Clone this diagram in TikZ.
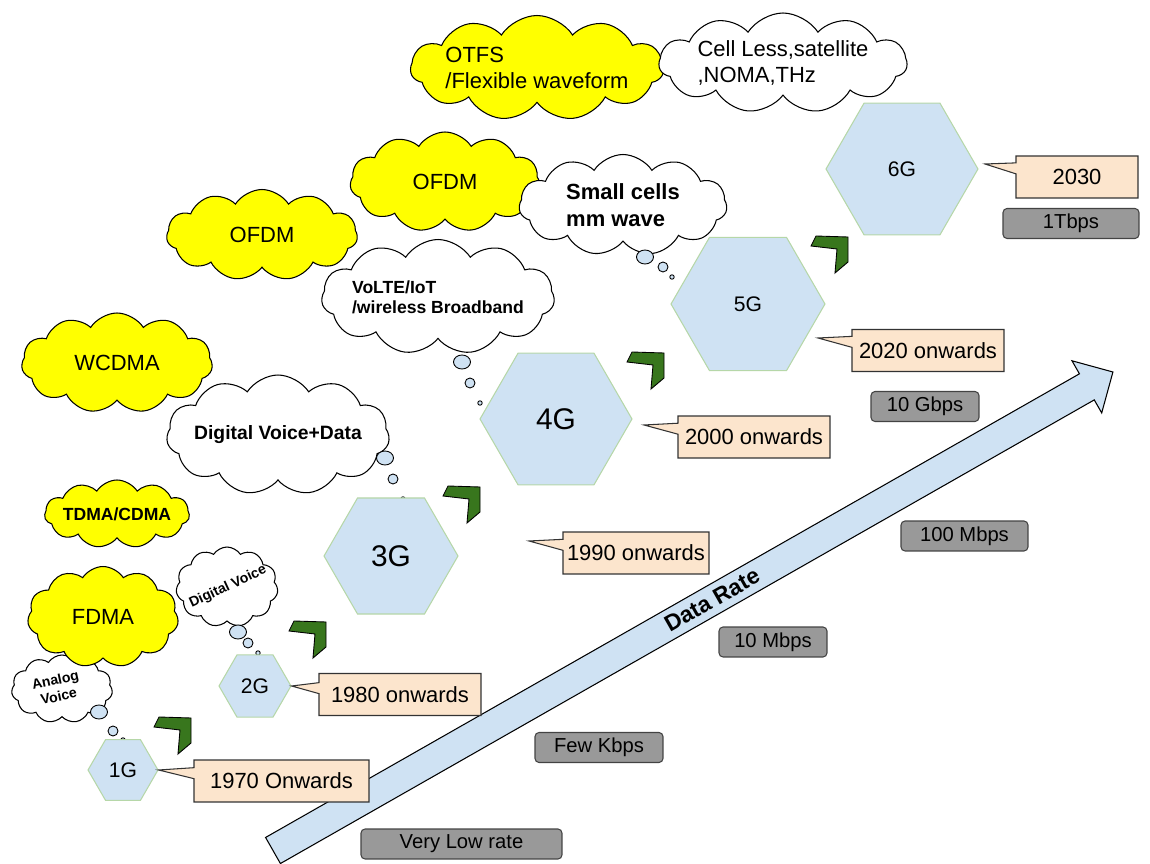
\documentclass[tikz,border=0pt]{standalone}
\usepackage{fontspec}
\setmainfont{Liberation Sans}
\usetikzlibrary{shapes.geometric,shapes.symbols,shapes.callouts}
\definecolor{cellblue}{HTML}{CFE2F3}
\definecolor{cellrim}{HTML}{B6D7A8}
\definecolor{yearpeach}{HTML}{FCE5CD}
\definecolor{yearrim}{HTML}{333333}
\definecolor{rategray}{HTML}{999999}
\definecolor{raterim}{HTML}{434343}
\definecolor{techyellow}{HTML}{FFFF00}
\definecolor{stepgreen}{HTML}{38761D}
\newcommand{\sz}[2]{\fontsize{#1}{#2}\selectfont}
% chevron between two generations, #1 = its top right corner
\newcommand{\genstep}[1]{%
  \draw[stepmark] (#1) -- ++(0,25) -- ++(-13,11) -- ++(2,-24)
    -- ++(-26,-3) -- ++(5,-10) -- cycle;}
% three thought bubbles, from the cloud down towards the cell
\newcommand{\bubbles}[3]{%
  \draw[bubble] (#1) circle[x radius=8.5, y radius=7];
  \draw[bubble] (#2) circle[radius=5];
  \draw[bubble] (#3) circle[radius=2.2];}

\begin{document}
\begin{tikzpicture}[
  x=0.02cm,
  y=-0.02cm,
  every node/.style={font=\sz{12.5}{15.3}, text=black},
  hexcell/.style={regular polygon, regular polygon sides=6, inner sep=0pt,
                  fill=cellblue, draw=cellrim, line width=0.6pt, font=\sz{12}{14}},
  bigcell/.style={hexcell, font=\sz{17}{20}},
  yearbox/.style={rectangle callout, callout pointer width=0.22cm, inner sep=0pt,
                  minimum height=0.84cm, fill=yearpeach, draw=yearrim, line width=0.6pt},
  ratebox/.style={rectangle, rounded corners=0.08cm, inner sep=0pt, minimum height=0.6cm,
                  fill=rategray, draw=raterim, line width=0.6pt, font=\sz{11.5}{13}},
  techcloud/.style={cloud, cloud puffs=11, cloud puff arc=115, cloud ignores aspect,
                    inner xsep=-0.5cm, inner ysep=0pt,
                    fill=techyellow, draw=black, line width=0.6pt},
  notecloud/.style={techcloud, fill=white},
  bubble/.style={fill=cellblue, draw=black, line width=0.5pt},
  stepmark/.style={fill=stepgreen, draw=black, line width=0.5pt},
  rateline/.style={fill=cellblue, draw=black, line width=0.6pt}
]
  \useasboundingbox (0,0) rectangle (1150,864);

  % ---- data rate arrow ----------------------------------------------------
  \begin{scope}[shift={(273,850.5)}, rotate=29.67]
    \draw[rateline] (0,-15) -- (936.7,-15) -- (936.7,-30) -- (966.7,0)
      -- (936.7,30) -- (936.7,15) -- (0,15) -- cycle;
  \end{scope}
  \node[rotate=29.67, font=\bfseries\sz{13}{15}] (dr) at (712,600) {Data Rate};

  % ---- clouds: access schemes (yellow) and services (white) ---------------
  \node[notecloud, inner sep=0pt, minimum width=2.02cm, minimum height=1.36cm]
    (an) at (62,689) {};
  \node[techcloud, minimum width=3.02cm, minimum height=2.02cm] (fd) at (103,617) {FDMA};
  \node[techcloud, minimum width=2.9cm, minimum height=1.36cm,
        font=\bfseries\sz{10}{12}] (td) at (117,514) {TDMA/CDMA};
  \node[techcloud, minimum width=3.82cm, minimum height=2cm] (wc) at (117,363) {WCDMA};
  \node[techcloud, minimum width=3.82cm, minimum height=1.82cm] (of1) at (262,235) {OFDM};
  \node[techcloud, minimum width=3.8cm, minimum height=2cm] (of2) at (445,182) {OFDM};
  \node[techcloud, minimum width=5.06cm, minimum height=2.1cm, align=left]
    (ot) at (537,68) {OTFS\\/Flexible waveform};

  \node[notecloud, inner sep=0pt, minimum width=2.04cm, minimum height=1.6cm]
    (dv) at (227,587) {};
  \node[notecloud, minimum width=4.46cm, minimum height=2.4cm,
        font=\bfseries\sz{11}{13}] (dd) at (278,435) {Digital Voice+Data};
  \node[notecloud, minimum width=4.66cm, minimum height=2.3cm, align=left,
        font=\bfseries\sz{10}{11.5}] (vl) at (438,297) {VoLTE/IoT\\/wireless Broadband};
  \node[notecloud, minimum width=4.16cm, minimum height=2.02cm, align=left,
        font=\bfseries\sz{12.5}{15.3}] (sc) at (623,205) {Small cells\\mm wave};
  \node[notecloud, minimum width=4.96cm, minimum height=2cm, align=left]
    (cl) at (783,63) {Cell Less,satellite\\,NOMA,THz};

  % tilted texts of the two small clouds
  \node[rotate=12, align=center, font=\bfseries\sz{8}{9.5}] (ant) at (57,688)
    {Analog\\Voice};
  \node[rotate=25, font=\bfseries\sz{8}{9.5}] (dvt) at (228,587) {Digital Voice};

  \bubbles{99,712}{113,731}{123,740}
  \bubbles{238,632}{248,643}{258,653}
  \bubbles{385,458}{393,479}{403,499}
  \bubbles{462,362}{470,383}{480,403}
  \bubbles{645,257}{663,267}{672,277}

  % ---- generations ----------------------------------------------------------
  \node[hexcell, minimum size=1.40cm] (g1) at (123,770) {1G};
  \node[hexcell, minimum size=1.44cm] (g2) at (255,686) {2G};
  \node[bigcell, minimum size=2.68cm] (g3) at (391,556) {3G};
  \node[bigcell, minimum size=3.04cm] (g4) at (556,419) {4G};
  \node[hexcell, minimum size=3.08cm] (g5) at (748,304) {5G};
  \node[hexcell, minimum size=3.04cm] (g6) at (902,169) {6G};

  \genstep{191,718}
  \genstep{326,622}
  \genstep{480,487}
  \genstep{664,353}
  \genstep{848,237}

  % ---- years ----------------------------------------------------------------
  \coordinate (p3) at (529,541);
  \coordinate (p4) at (644,425);
  \coordinate (p5) at (818,338);
  \coordinate (p6) at (985,164);
  \node[yearbox, minimum width=3.5cm, callout absolute pointer={(g1.east)}]
    (y1) at (281.5,781) {1970 Onwards};
  \node[yearbox, minimum width=3.24cm, callout absolute pointer={(g2.east)}]
    (y2) at (400,694.5) {1980 onwards};
  \node[yearbox, minimum width=2.92cm, callout absolute pointer={(p3)}]
    (y3) at (636,553) {1990 onwards};
  \node[yearbox, minimum width=3.04cm, callout absolute pointer={(p4)}]
    (y4) at (754,437) {2000 onwards};
  \node[yearbox, minimum width=3.04cm, callout absolute pointer={(p5)}]
    (y5) at (928,350.5) {2020 onwards};
  \node[yearbox, minimum width=2.44cm, callout absolute pointer={(p6)}]
    (y6) at (1077,177) {2030};

  % ---- rates ----------------------------------------------------------------
  \node[ratebox, minimum width=4.02cm] (r1) at (461.5,844) {Very Low rate};
  \node[ratebox, minimum width=2.56cm] (r2) at (599,747.5) {Few Kbps};
  \node[ratebox, minimum width=2.16cm] (r3) at (773,642) {10 Mbps};
  \node[ratebox, minimum width=2.54cm] (r4) at (964.5,536) {100 Mbps};
  \node[ratebox, minimum width=2.16cm] (r5) at (925,406.5) {10 Gbps};
  \node[ratebox, minimum width=2.72cm] (r6) at (1071,223.5) {1Tbps};
\end{tikzpicture}
\end{document}
